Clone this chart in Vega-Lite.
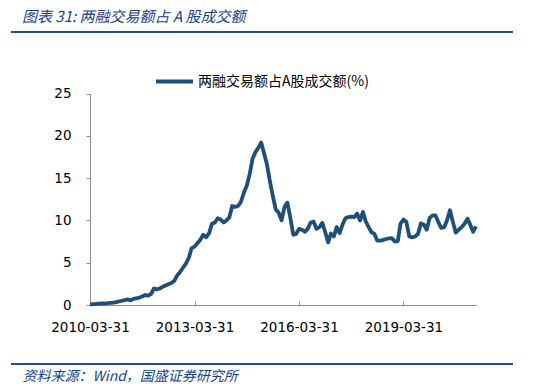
{
  "$schema": "https://vega.github.io/schema/vega-lite/v6.json",
  "background": "white",
  "autosize": {"type": "none"},
  "padding": {"left": 11, "top": 32, "right": 37, "bottom": 22},
  "width": 502,
  "height": 332,
  "config": {"font": "DejaVu Sans"},
  "view": {"stroke": "#1F4E9F", "strokeWidth": 2, "strokeDash": [502, 332, 502, 332]},
  "title": {"text": "图表 31: 两融交易额占 A 股成交额", "anchor": "start", "frame": "group", "font": "Noto Sans CJK SC", "fontSize": 15, "fontStyle": "italic", "fontWeight": "normal", "color": "#173F8F", "offset": 7, "dx": 11},
  "data": {"values": [
    {"date": "2010-03-31", "value": 0.05}, {"date": "2010-04-30", "value": 0.1}, {"date": "2010-05-31", "value": 0.12}, {"date": "2010-06-30", "value": 0.15}, {"date": "2010-07-31", "value": 0.18}, {"date": "2010-08-31", "value": 0.2}, {"date": "2010-09-30", "value": 0.22}, {"date": "2010-10-31", "value": 0.25}, {"date": "2010-11-30", "value": 0.28}, {"date": "2010-12-31", "value": 0.35},
    {"date": "2011-01-31", "value": 0.42}, {"date": "2011-02-28", "value": 0.5}, {"date": "2011-03-31", "value": 0.58}, {"date": "2011-04-30", "value": 0.66}, {"date": "2011-05-31", "value": 0.55}, {"date": "2011-06-30", "value": 0.72}, {"date": "2011-07-31", "value": 0.8}, {"date": "2011-08-31", "value": 0.88}, {"date": "2011-09-30", "value": 1.0}, {"date": "2011-10-31", "value": 1.18}, {"date": "2011-11-30", "value": 1.12}, {"date": "2011-12-31", "value": 1.3},
    {"date": "2012-01-31", "value": 1.95}, {"date": "2012-02-29", "value": 1.85}, {"date": "2012-03-31", "value": 1.95}, {"date": "2012-04-30", "value": 2.15}, {"date": "2012-05-31", "value": 2.3}, {"date": "2012-06-30", "value": 2.45}, {"date": "2012-07-31", "value": 2.6}, {"date": "2012-08-31", "value": 2.85}, {"date": "2012-09-30", "value": 3.5}, {"date": "2012-10-31", "value": 3.9}, {"date": "2012-11-30", "value": 4.4}, {"date": "2012-12-31", "value": 4.9},
    {"date": "2013-01-31", "value": 5.6}, {"date": "2013-02-28", "value": 6.7}, {"date": "2013-03-31", "value": 6.9}, {"date": "2013-04-30", "value": 7.3}, {"date": "2013-05-31", "value": 7.7}, {"date": "2013-06-30", "value": 8.3}, {"date": "2013-07-31", "value": 8.0}, {"date": "2013-08-31", "value": 8.5}, {"date": "2013-09-30", "value": 9.6}, {"date": "2013-10-31", "value": 9.75}, {"date": "2013-11-30", "value": 10.25}, {"date": "2013-12-31", "value": 10.1},
    {"date": "2014-01-31", "value": 9.75}, {"date": "2014-02-28", "value": 10.0}, {"date": "2014-03-31", "value": 10.35}, {"date": "2014-04-30", "value": 11.7}, {"date": "2014-05-31", "value": 11.6}, {"date": "2014-06-30", "value": 11.7}, {"date": "2014-07-31", "value": 12.2}, {"date": "2014-08-31", "value": 13.3}, {"date": "2014-09-30", "value": 14.1}, {"date": "2014-10-31", "value": 15.5}, {"date": "2014-11-30", "value": 17.3}, {"date": "2014-12-31", "value": 18.1},
    {"date": "2015-01-31", "value": 18.6}, {"date": "2015-02-28", "value": 19.2}, {"date": "2015-03-31", "value": 17.9}, {"date": "2015-04-30", "value": 16.6}, {"date": "2015-05-31", "value": 14.6}, {"date": "2015-06-30", "value": 12.9}, {"date": "2015-07-31", "value": 11.3}, {"date": "2015-08-31", "value": 10.9}, {"date": "2015-09-30", "value": 10.0}, {"date": "2015-10-31", "value": 11.6}, {"date": "2015-11-30", "value": 12.1}, {"date": "2015-12-31", "value": 10.3},
    {"date": "2016-01-31", "value": 8.3}, {"date": "2016-02-29", "value": 8.4}, {"date": "2016-03-31", "value": 9.0}, {"date": "2016-04-30", "value": 8.9}, {"date": "2016-05-31", "value": 8.65}, {"date": "2016-06-30", "value": 9.0}, {"date": "2016-07-31", "value": 9.75}, {"date": "2016-08-31", "value": 9.85}, {"date": "2016-09-30", "value": 9.0}, {"date": "2016-10-31", "value": 9.2}, {"date": "2016-11-30", "value": 9.7}, {"date": "2016-12-31", "value": 8.6},
    {"date": "2017-01-31", "value": 7.4}, {"date": "2017-02-28", "value": 8.45}, {"date": "2017-03-31", "value": 8.1}, {"date": "2017-04-30", "value": 9.2}, {"date": "2017-05-31", "value": 8.5}, {"date": "2017-06-30", "value": 9.5}, {"date": "2017-07-31", "value": 10.25}, {"date": "2017-08-31", "value": 10.4}, {"date": "2017-09-30", "value": 10.45}, {"date": "2017-10-31", "value": 10.4}, {"date": "2017-11-30", "value": 10.8}, {"date": "2017-12-31", "value": 10.0},
    {"date": "2018-01-31", "value": 11.0}, {"date": "2018-02-28", "value": 9.9}, {"date": "2018-03-31", "value": 9.2}, {"date": "2018-04-30", "value": 8.6}, {"date": "2018-05-31", "value": 8.4}, {"date": "2018-06-30", "value": 7.6}, {"date": "2018-07-31", "value": 7.6}, {"date": "2018-08-31", "value": 7.7}, {"date": "2018-09-30", "value": 7.8}, {"date": "2018-10-31", "value": 7.88}, {"date": "2018-11-30", "value": 7.9}, {"date": "2018-12-31", "value": 7.5},
    {"date": "2019-01-31", "value": 7.55}, {"date": "2019-02-28", "value": 9.6}, {"date": "2019-03-31", "value": 10.1}, {"date": "2019-04-30", "value": 9.85}, {"date": "2019-05-31", "value": 8.1}, {"date": "2019-06-30", "value": 8.0}, {"date": "2019-07-31", "value": 8.1}, {"date": "2019-08-31", "value": 8.4}, {"date": "2019-09-30", "value": 9.65}, {"date": "2019-10-31", "value": 9.5}, {"date": "2019-11-30", "value": 8.9}, {"date": "2019-12-31", "value": 10.3},
    {"date": "2020-01-31", "value": 10.6}, {"date": "2020-02-29", "value": 10.6}, {"date": "2020-03-31", "value": 9.8}, {"date": "2020-04-30", "value": 9.1}, {"date": "2020-05-31", "value": 9.2}, {"date": "2020-06-30", "value": 10.0}, {"date": "2020-07-31", "value": 11.2}, {"date": "2020-08-31", "value": 9.8}, {"date": "2020-09-30", "value": 8.55}, {"date": "2020-10-31", "value": 8.9}, {"date": "2020-11-30", "value": 9.2}, {"date": "2020-12-31", "value": 9.6},
    {"date": "2021-01-31", "value": 10.2}, {"date": "2021-02-28", "value": 9.5}, {"date": "2021-03-31", "value": 8.65}, {"date": "2021-04-30", "value": 9.3}
  ]},
  "mark": {"type": "line", "strokeWidth": 3.8, "strokeJoin": "round"},
  "encoding": {
    "x": {
      "field": "date",
      "type": "temporal",
      "scale": {"type": "utc", "domain": [{"year": 2010, "month": 3, "date": 31, "utc": true}, {"year": 2021, "month": 4, "date": 30, "utc": true}], "range": [79, 465]},
      "axis": {
        "values": [{"year": 2010, "month": 3, "date": 31, "utc": true}, {"year": 2013, "month": 3, "date": 31, "utc": true}, {"year": 2016, "month": 3, "date": 31, "utc": true}, {"year": 2019, "month": 3, "date": 31, "utc": true}],
        "format": "%Y-%m-%d",
        "offset": -59,
        "grid": false,
        "domainColor": "#8c8c8c",
        "tickColor": "#8c8c8c",
        "tickSize": -4,
        "labelPadding": 19,
        "labelFont": "DejaVu Sans",
        "labelFontSize": 13.5,
        "labelColor": "#000000",
        "labelFlush": false,
        "labelOverlap": false,
        "title": "资料来源：Wind，国盛证券研究所",
        "titleX": 11,
        "titleY": 71,
        "titleAlign": "left",
        "titleAnchor": "start",
        "titleBaseline": "middle",
        "titleFont": "Noto Sans CJK SC",
        "titleFontSize": 14,
        "titleFontStyle": "italic",
        "titleFontWeight": "normal",
        "titleColor": "#173F8F"
      }
    },
    "y": {
      "field": "value",
      "type": "quantitative",
      "scale": {"domain": [0, 25], "nice": false, "range": [273, 61.5]},
      "axis": {
        "values": [0, 5, 10, 15, 20, 25],
        "offset": -79,
        "grid": false,
        "domainColor": "#8c8c8c",
        "tickColor": "#8c8c8c",
        "tickSize": 4,
        "labelPadding": 15,
        "labelFont": "DejaVu Sans",
        "labelFontSize": 13.5,
        "labelColor": "#000000",
        "title": null
      }
    },
    "color": {
      "datum": "两融交易额占A股成交额(%)",
      "scale": {"range": ["#1F4E79"]},
      "legend": {
        "orient": "none",
        "legendX": 143,
        "legendY": 29,
        "title": null,
        "symbolType": "stroke",
        "symbolSize": 1369,
        "symbolStrokeWidth": 4,
        "labelFont": "Noto Sans CJK SC",
        "labelFontSize": 14,
        "labelColor": "#000000",
        "labelOffset": 3,
        "labelLimit": 400
      }
    }
  }
}
